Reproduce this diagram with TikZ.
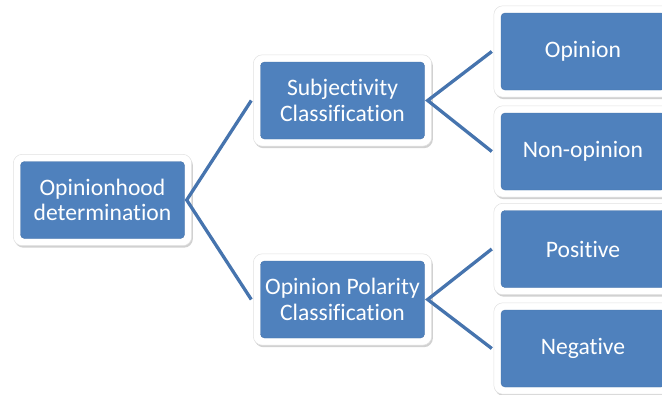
\documentclass[tikz,border=0pt]{standalone}
\usepackage{fontspec}
\setmainfont{Carlito}[Ligatures=CommonOff]
\usetikzlibrary{shadows,calc,backgrounds}
\definecolor{boxblue}{HTML}{4F81BD}
\definecolor{lineblue}{HTML}{4674AE}
\tikzset{
  box/.style={fill=boxblue, draw=boxblue!90!black, line width=0.4pt, rounded corners=4pt,
    minimum height=77pt, minimum width=164pt, text=white, align=center,
    font=\fontsize{23.6}{25.5}\selectfont, inner sep=0pt},
  frame/.style={fill=white, draw=black!12, line width=0.5pt, rounded corners=9pt,
    drop shadow={shadow xshift=1.2pt, shadow yshift=-2pt, opacity=0.3, fill=black!60}},
  conn/.style={draw=lineblue, line width=3.3pt}
}
\begin{document}
\begin{tikzpicture}[x=1pt,y=-1pt]
\useasboundingbox (0,0) rectangle (662,394);
\clip (0,0) rectangle (662,394);
\node[box] (root) at (102.5,200) {Opinionhood\\determination};
\node[box] (sub) at (342.5,100.5) {Subjectivity\\Classification};
\node[box] (pol) at (342.5,299.5) {Opinion Polarity\\Classification};
\node[box] (op) at (583,51.5) {Opinion};
\node[box] (nop) at (583,151.5) {Non-opinion};
\node[box] (pos) at (583,249) {Positive};
\node[box] (neg) at (583,348.5) {Negative};
\begin{scope}[on background layer]
  \foreach \n in {root,sub,pol,op,nop,pos,neg}{
    \path[frame] ($(\n.north west)+(-7pt,7pt)$) rectangle ($(\n.south east)+(7pt,-7pt)$);
  }
\end{scope}
\coordinate (subin) at ($(sub.west)+(-9pt,0)$);
\coordinate (polin) at ($(pol.west)+(-9pt,0)$);
\coordinate (opin) at ($(op.west)+(-9pt,0)$);
\coordinate (nopin) at ($(nop.west)+(-9pt,0)$);
\coordinate (posin) at ($(pos.west)+(-9pt,0)$);
\coordinate (negin) at ($(neg.west)+(-9pt,0)$);
\draw[conn] (subin) -- ($(root.east)+(2pt,0)$) -- (polin);
\draw[conn] (opin) -- ($(sub.east)+(3pt,0)$) -- (nopin);
\draw[conn] (posin) -- ($(pol.east)+(3pt,0)$) -- (negin);
\end{tikzpicture}
\end{document}
